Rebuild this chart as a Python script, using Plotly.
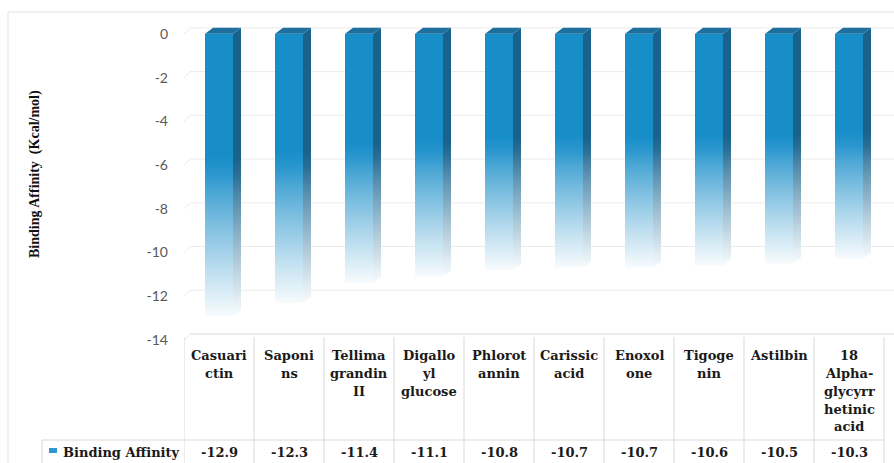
import plotly.graph_objects as go

# ---------------- data ----------------
categories = ["Casuari\nctin", "Saponi\nns", "Tellima\ngrandin\nII", "Digallo\nyl\nglucose",
              "Phlorot\nannin", "Carissic\nacid", "Enoxol\none", "Tigoge\nnin", "Astilbin",
              "18\nAlpha-\nglycyrr\nhetinic\nacid"]
values = [-12.9, -12.3, -11.4, -11.1, -10.8, -10.7, -10.7, -10.6, -10.5, -10.3]
value_labels = ["-12.9", "-12.3", "-11.4", "-11.1", "-10.8", "-10.7", "-10.7", "-10.6", "-10.5", "-10.3"]
series_name = "Binding Affinity"
tick_vals = [0, -2, -4, -6, -8, -10, -12, -14]
tick_labels = ["0", "-2", "-4", "-6", "-8", "-10", "-12", "-14"]
y_title = "Binding Affinity  (Kcal/mol)"

# ---------------- style / geometry ----------------
W, H = 894, 463
L_M, R_M, T_M, B_M = 184, 0, 12, 123
PX_PER_UNIT_X = 70.0
Y_RANGE = [-14, 1]
PLOT_H = H - T_M - B_M
PX_PER_UNIT_Y = PLOT_H / (Y_RANGE[1] - Y_RANGE[0])
X_MAX = -0.5 + (W - L_M - R_M) / PX_PER_UNIT_X

BAR_W = 0.4
DX = 8 / PX_PER_UNIT_X          # 3D depth, x
DY = 6 / PX_PER_UNIT_Y          # 3D depth, y

FRONT = (24, 142, 201)
SIDE = (24, 98, 140)
TOPC = (29, 112, 158)
FADE = (248, 251, 253)
GRID = "#ebebeb"
TABLE_LINE = "#d9d9d9"
SERIF = "DejaVu Serif"
NOLINE = dict(width=0, color="rgba(0,0,0,0)")


def py(p):
    return (H - B_M - p) / PLOT_H


def pxp(p):
    return (p - L_M) / (W - L_M - R_M)


def grad(base, frac):
    s = 0.47
    if frac <= s:
        t = 0.0
    else:
        t = min(1.0, (frac - s) / (1 - s))
        t = t ** 0.85
    c = [round(base[i] + (FADE[i] - base[i]) * t) for i in range(3)]
    return "rgb(%d,%d,%d)" % tuple(c)


def colorscale(base):
    # position 0 = bottom of bar, 1 = top of bar
    stops = []
    n = 16
    for j in range(n + 1):
        p = j / n
        stops.append([p, grad(base, 1 - p)])
    return stops


fig = go.Figure()

for i, v in enumerate(values):
    xl = i - BAR_W / 2
    xr = i + BAR_W / 2
    # front face
    fig.add_trace(go.Scatter(
        x=[xl, xr, xr, xl, xl], y=[0, 0, v, v, 0], mode="none", fill="toself",
        line=NOLINE, hoverinfo="skip", showlegend=False,
        fillgradient=dict(type="vertical", colorscale=colorscale(FRONT), start=v, stop=0)))
    # side face
    fig.add_trace(go.Scatter(
        x=[xr, xr + DX, xr + DX, xr, xr], y=[0, DY, v + DY, v, 0], mode="none", fill="toself",
        line=NOLINE, hoverinfo="skip", showlegend=False,
        fillgradient=dict(type="vertical", colorscale=colorscale(SIDE), start=v, stop=0)))

# top faces
tx, ty = [], []
for i, v in enumerate(values):
    xa = i - BAR_W / 2
    xb = i + BAR_W / 2
    tx += [xa, xb, xb + DX, xa + DX, xa, None]
    ty += [0, 0, DY, DY, 0, None]
topcol = "rgb(%d,%d,%d)" % TOPC
fig.add_trace(go.Scatter(x=tx, y=ty, mode="none", fill="toself", fillcolor=topcol,
                         line=NOLINE, hoverinfo="skip", showlegend=False))

shapes = []
# gridlines on the back wall, with slanted side-wall segment
for t in tick_vals:
    shapes.append(dict(type="line", xref="x", yref="y", x0=-0.5, y0=t, x1=-0.5 + DX * 0.8, y1=t + DY,
                       line=dict(color=GRID, width=1), layer="below"))
    shapes.append(dict(type="line", xref="x", yref="y", x0=-0.5 + DX * 0.8, y0=t + DY, x1=X_MAX, y1=t + DY,
                       line=dict(color=GRID if t != -14 else TABLE_LINE, width=1), layer="below"))

# data table lines
for i in range(len(values) + 1):
    shapes.append(dict(type="line", xref="x", yref="paper", x0=i - 0.5, x1=i - 0.5,
                       y0=py(337), y1=py(H), line=dict(color=TABLE_LINE, width=1)))
shapes.append(dict(type="line", xref="paper", yref="paper", x0=pxp(42), x1=pxp(884),
                   y0=py(440), y1=py(440), line=dict(color=TABLE_LINE, width=1)))
shapes.append(dict(type="line", xref="paper", yref="paper", x0=pxp(42), x1=pxp(42),
                   y0=py(440), y1=py(H), line=dict(color=TABLE_LINE, width=1)))
# chart outer frame
shapes.append(dict(type="line", xref="paper", yref="paper", x0=pxp(8), x1=pxp(W),
                   y0=py(12), y1=py(12), line=dict(color="#e3e3e3", width=1)))
shapes.append(dict(type="line", xref="paper", yref="paper", x0=pxp(8), x1=pxp(8),
                   y0=py(12), y1=py(H), line=dict(color="#e3e3e3", width=1)))
# legend key
shapes.append(dict(type="rect", xref="paper", yref="paper", x0=pxp(49), x1=pxp(57),
                   y0=py(453), y1=py(448), fillcolor="rgb(46,150,210)", line=dict(width=0)))

annotations = []
for i, cat in enumerate(categories):
    for j, line in enumerate(cat.split("\n")):
        annotations.append(dict(x=i, xref="x", y=py(355 + 18 * j), yref="paper", text="<b>%s</b>" % line,
                                showarrow=False, xanchor="center", yanchor="middle",
                                font=dict(family=SERIF, size=13, color="#1a1a1a")))
    annotations.append(dict(x=i, xref="x", y=py(452), yref="paper", text="<b>%s</b>" % value_labels[i],
                            showarrow=False, xanchor="center", yanchor="middle",
                            font=dict(family=SERIF, size=13, color="#1a1a1a")))
annotations.append(dict(x=pxp(61), xref="paper", y=py(452), yref="paper", text="<b>%s</b>" % series_name,
                        showarrow=False, xanchor="left", yanchor="middle",
                        font=dict(family=SERIF, size=13, color="#1a1a1a")))
annotations.append(dict(x=pxp(35), xref="paper", y=py(174), yref="paper", text="<b>%s</b>" % y_title,
                        showarrow=False, xanchor="center", yanchor="middle", textangle=-90,
                        font=dict(family="Liberation Serif", size=14, color="#111111")))

fig.update_layout(
    width=W, height=H, margin=dict(l=L_M, r=R_M, t=T_M, b=B_M, pad=0),
    paper_bgcolor="white", plot_bgcolor="white",
    showlegend=False, shapes=shapes, annotations=annotations,
    xaxis=dict(range=[-0.5, X_MAX], showgrid=False, zeroline=False, showticklabels=False,
               showline=False, fixedrange=True),
    yaxis=dict(range=Y_RANGE, tickvals=tick_vals, ticktext=tick_labels, showgrid=False,
               zeroline=False, showline=False, ticks="", ticklabelstandoff=15,
               tickfont=dict(family="Lato", size=14, color="#595959"), fixedrange=True),
)

fig.write_html("out.html")
